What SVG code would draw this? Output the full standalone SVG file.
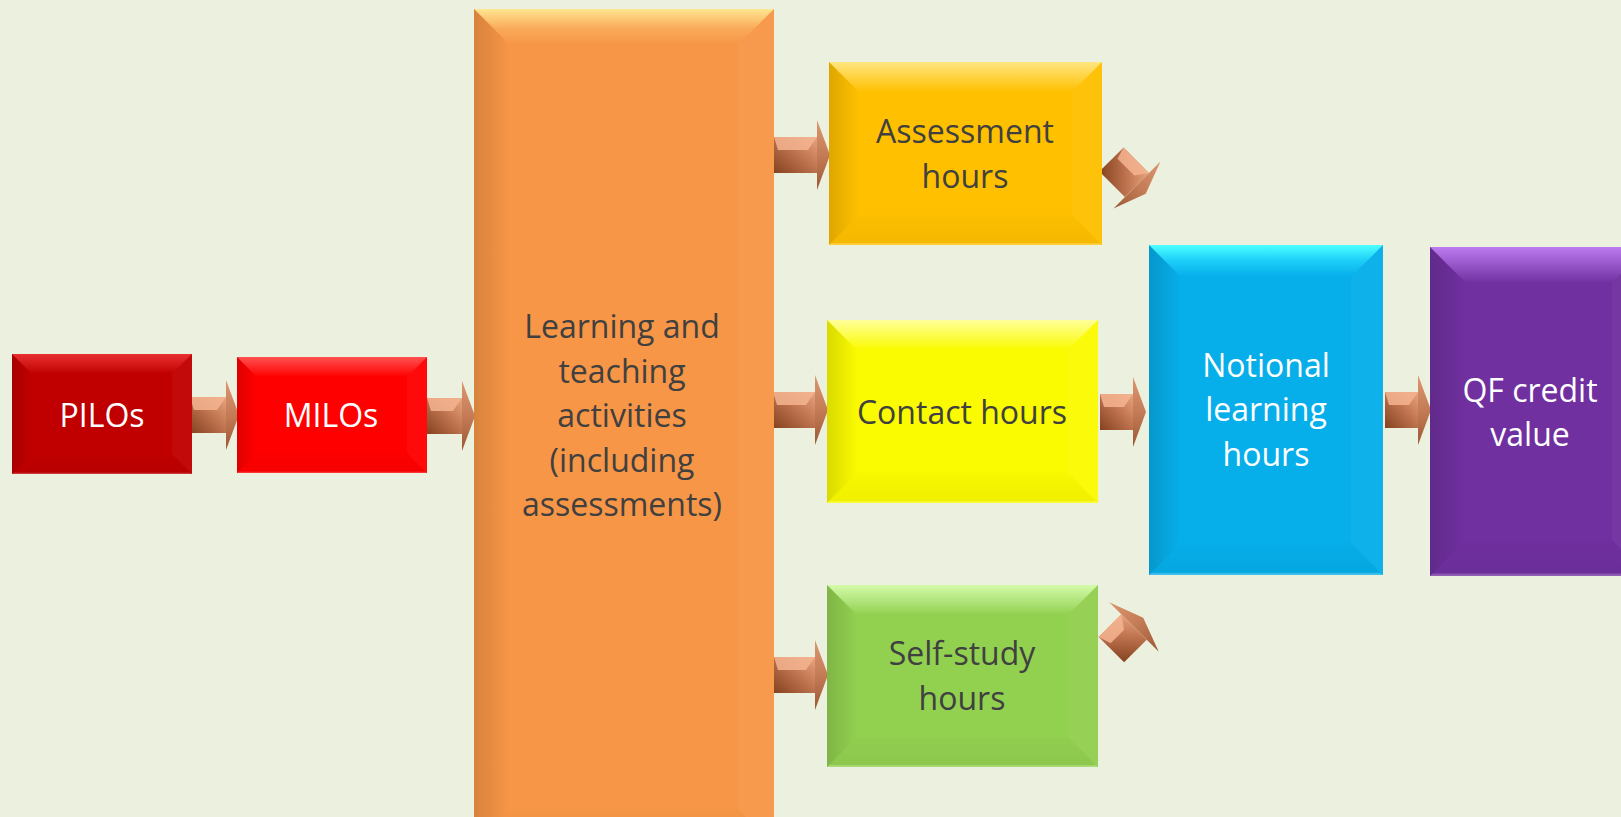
<svg xmlns="http://www.w3.org/2000/svg" width="1621" height="817" viewBox="0 0 1621 817">
<style>
text{font-family:"Open Sans","Liberation Sans",sans-serif;font-size:32px;text-anchor:middle}
.w{fill:#ffffff}
.d{fill:#404040}
.lf{fill:url(#gLeft)}
.rt{fill:#ffffff;opacity:0.04}
.bt{fill:url(#gBot)}
.ab{fill:url(#gArrBody)}
.af{fill:#F5B490;opacity:0.85}
.ah{fill:url(#gArrHead)}
</style>
<defs>
<linearGradient id="gLeft" x1="0" y1="0" x2="1" y2="0"><stop offset="0" stop-color="#000" stop-opacity="0.13"/><stop offset="1" stop-color="#000" stop-opacity="0"/></linearGradient>
<linearGradient id="gBot" x1="0" y1="0" x2="0" y2="1"><stop offset="0" stop-color="#000" stop-opacity="0.01"/><stop offset="0.9" stop-color="#000" stop-opacity="0.04"/><stop offset="0.94" stop-color="#fff" stop-opacity="0.15"/><stop offset="1" stop-color="#fff" stop-opacity="0.25"/></linearGradient>
<linearGradient id="tPilo" x1="0" y1="0" x2="0" y2="1"><stop offset="0" stop-color="#E83030"/><stop offset="1" stop-color="#C00000"/></linearGradient>
<linearGradient id="tMilo" x1="0" y1="0" x2="0" y2="1"><stop offset="0" stop-color="#FF5050"/><stop offset="1" stop-color="#FF0000"/></linearGradient>
<linearGradient id="tLta" x1="0" y1="0" x2="0" y2="1"><stop offset="0" stop-color="#FFE690"/><stop offset="0.55" stop-color="#F9A95A"/><stop offset="1" stop-color="#F79646"/></linearGradient>
<linearGradient id="tAss" x1="0" y1="0" x2="0" y2="1"><stop offset="0" stop-color="#FFE680"/><stop offset="1" stop-color="#FFC000"/></linearGradient>
<linearGradient id="tCon" x1="0" y1="0" x2="0" y2="1"><stop offset="0" stop-color="#FFFF9A"/><stop offset="1" stop-color="#FAFA00"/></linearGradient>
<linearGradient id="tSelf" x1="0" y1="0" x2="0" y2="1"><stop offset="0" stop-color="#D4FBAA"/><stop offset="1" stop-color="#92D050"/></linearGradient>
<linearGradient id="tNot" x1="0" y1="0" x2="0" y2="1"><stop offset="0" stop-color="#4CFFFF"/><stop offset="0.5" stop-color="#1CCDF8"/><stop offset="1" stop-color="#06AEEA"/></linearGradient>
<linearGradient id="tQf" x1="0" y1="0" x2="0" y2="1"><stop offset="0" stop-color="#BC7CF0"/><stop offset="1" stop-color="#7030A0"/></linearGradient>
<linearGradient id="gArrBody" x1="0" y1="1" x2="1" y2="0"><stop offset="0" stop-color="#85421F"/><stop offset="0.55" stop-color="#C07450"/><stop offset="1" stop-color="#E8A47E"/></linearGradient>
<linearGradient id="gArrHead" x1="0" y1="0" x2="0" y2="1"><stop offset="0" stop-color="#DC966E"/><stop offset="0.5" stop-color="#C47C56"/><stop offset="1" stop-color="#9C5834"/></linearGradient>
</defs>
<rect width="1621" height="817" fill="#EBF1DE"/>

<g id="connectors">
<g transform="translate(226,415)"><rect class="ab" x="-36" y="-18" width="36" height="36"/><polygon class="af" points="-36,-18 0,-18 -9,-5 -32,-5"/><polygon class="ah" points="0,-35 13,0 0,35"/></g>
<g transform="translate(462,416)"><rect class="ab" x="-35" y="-18" width="35" height="36"/><polygon class="af" points="-35,-18 0,-18 -9,-5 -31,-5"/><polygon class="ah" points="0,-35 13,0 0,35"/></g>
<g transform="translate(817,155)"><rect class="ab" x="-43" y="-18" width="43" height="36"/><polygon class="af" points="-43,-18 0,-18 -9,-5 -39,-5"/><polygon class="ah" points="0,-35 13,0 0,35"/></g>
<g transform="translate(815,410)"><rect class="ab" x="-42" y="-18" width="42" height="36"/><polygon class="af" points="-42,-18 0,-18 -9,-5 -38,-5"/><polygon class="ah" points="0,-35 13,0 0,35"/></g>
<g transform="translate(815,675)"><rect class="ab" x="-41" y="-18" width="41" height="36"/><polygon class="af" points="-41,-18 0,-18 -9,-5 -37,-5"/><polygon class="ah" points="0,-35 13,0 0,35"/></g>
<g transform="translate(1133,412)"><rect class="ab" x="-33" y="-18" width="33" height="36"/><polygon class="af" points="-33,-18 0,-18 -9,-5 -29,-5"/><polygon class="ah" points="0,-35 13,0 0,35"/></g>
<g transform="translate(1418,410)"><rect class="ab" x="-33" y="-18" width="33" height="36"/><polygon class="af" points="-33,-18 0,-18 -9,-5 -29,-5"/><polygon class="ah" points="0,-35 13,0 0,35"/></g>
<g transform="translate(1137,185) rotate(45) scale(0.95)"><rect class="ab" x="-38" y="-18" width="38" height="36"/><polygon class="af" points="-38,-18 0,-18 -9,-5 -34,-5"/><polygon class="ah" points="0,-35 13,0 0,35"/></g>
<g transform="translate(1134,627) rotate(-45)"><rect class="ab" x="-32" y="-18" width="32" height="36"/><polygon class="af" points="-32,-18 0,-18 -9,-5 -28,-5"/><polygon class="ah" points="0,-35 13,0 0,35"/></g>
</g>

<g id="pilos">
<rect x="12" y="354" width="180" height="120" fill="#C00000"/>
<polygon fill="url(#tPilo)" points="12,354 192,354 172,374 32,374"/>
<polygon class="lf" points="12,354 32,374 32,454 12,474"/>
<polygon class="rt" points="192,354 192,474 172,454 172,374"/>
<polygon class="bt" points="12,474 192,474 172,454 32,454"/>
<text class="w" x="102" y="427">PILOs</text>
</g>

<g id="milos">
<rect x="237" y="357" width="190" height="116" fill="#FF0000"/>
<polygon fill="url(#tMilo)" points="237,357 427,357 407,377 257,377"/>
<polygon class="lf" points="237,357 257,377 257,453 237,473"/>
<polygon class="rt" points="427,357 427,473 407,453 407,377"/>
<polygon class="bt" points="237,473 427,473 407,453 257,453"/>
<text class="w" x="331" y="427">MILOs</text>
</g>

<g id="lta">
<rect x="474" y="9" width="300" height="836" fill="#F79646"/>
<polygon fill="url(#tLta)" points="474,9 774,9 738,45 510,45"/>
<polygon class="lf" points="474,9 510,45 510,809 474,845"/>
<polygon class="rt" points="774,9 774,845 738,809 738,45"/>
<polygon class="bt" points="474,845 774,845 738,809 510,809"/>
<text class="d" x="622" y="338">Learning and</text>
<text class="d" x="622" y="383">teaching</text>
<text class="d" x="622" y="427">activities</text>
<text class="d" x="622" y="472">(including</text>
<text class="d" x="622" y="516">assessments)</text>
</g>

<g id="assessment">
<rect x="829" y="62" width="273" height="183" fill="#FFC000"/>
<polygon fill="url(#tAss)" points="829,62 1102,62 1072,92 859,92"/>
<polygon class="lf" points="829,62 859,92 859,215 829,245"/>
<polygon class="rt" points="1102,62 1102,245 1072,215 1072,92"/>
<polygon class="bt" points="829,245 1102,245 1072,215 859,215"/>
<text class="d" x="965" y="143">Assessment</text>
<text class="d" x="965" y="188">hours</text>
</g>

<g id="contact">
<rect x="827" y="320" width="271" height="183" fill="#FAFA00"/>
<polygon fill="url(#tCon)" points="827,320 1098,320 1068,350 857,350"/>
<polygon class="lf" points="827,320 857,350 857,473 827,503"/>
<polygon class="rt" points="1098,320 1098,503 1068,473 1068,350"/>
<polygon class="bt" points="827,503 1098,503 1068,473 857,473"/>
<text class="d" x="962" y="424">Contact hours</text>
</g>

<g id="selfstudy">
<rect x="827" y="585" width="271" height="182" fill="#92D050"/>
<polygon fill="url(#tSelf)" points="827,585 1098,585 1068,615 857,615"/>
<polygon class="lf" points="827,585 857,615 857,737 827,767"/>
<polygon class="rt" points="1098,585 1098,767 1068,737 1068,615"/>
<polygon class="bt" points="827,767 1098,767 1068,737 857,737"/>
<text class="d" x="962" y="665">Self-study</text>
<text class="d" x="962" y="710">hours</text>
</g>

<g id="notional">
<rect x="1149" y="245" width="234" height="330" fill="#06AEEA"/>
<polygon fill="url(#tNot)" points="1149,245 1383,245 1351,277 1181,277"/>
<polygon class="lf" points="1149,245 1181,277 1181,543 1149,575"/>
<polygon class="rt" points="1383,245 1383,575 1351,543 1351,277"/>
<polygon class="bt" points="1149,575 1383,575 1351,543 1181,543"/>
<text class="w" x="1266" y="377">Notional</text>
<text class="w" x="1266" y="421">learning</text>
<text class="w" x="1266" y="466">hours</text>
</g>

<g id="qf">
<rect x="1430" y="247" width="218" height="329" fill="#7030A0"/>
<polygon fill="url(#tQf)" points="1430,247 1648,247 1612,283 1466,283"/>
<polygon class="lf" points="1430,247 1466,283 1466,540 1430,576"/>
<polygon class="rt" points="1648,247 1648,576 1612,540 1612,283"/>
<polygon class="bt" points="1430,576 1648,576 1612,540 1466,540"/>
<text class="w" x="1530" y="402">QF credit</text>
<text class="w" x="1530" y="446">value</text>
</g>
</svg>
